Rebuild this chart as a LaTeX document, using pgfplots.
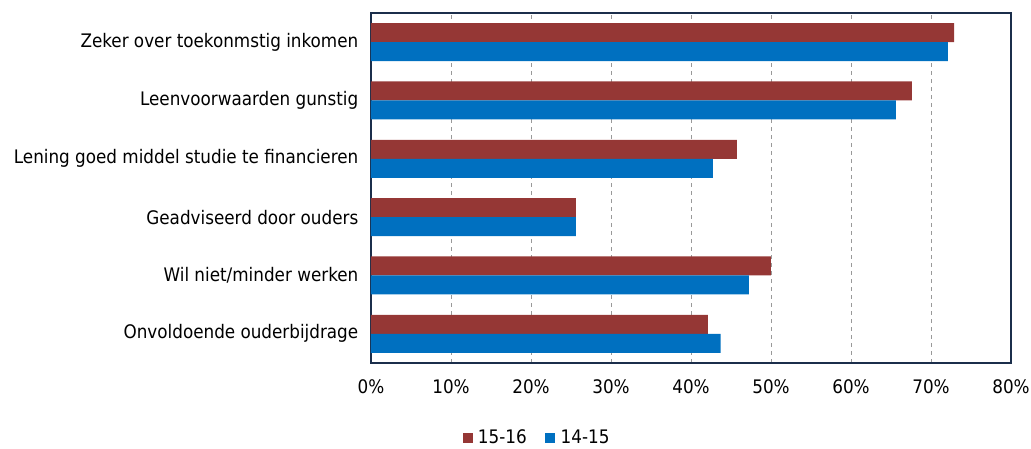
\documentclass[border=0pt]{standalone}
\usepackage{pgfplots}
\pgfplotsset{compat=1.18}
\usepackage{fontspec}
\setmainfont{DejaVu Sans Condensed}
\definecolor{cRed}{HTML}{953735}
\definecolor{cBlue}{HTML}{0070C0}
\definecolor{cFrame}{HTML}{1B2E4B}
\begin{document}
\begin{tikzpicture}[x=0.75pt,y=0.75pt]
\path[use as bounding box] (-371,-86) rectangle (660,363);
\begin{axis}[
  at={(0,0)}, anchor=south west,
  scale only axis,
  width=480pt, height=262.5pt,
  xbar,
  bar width=14.25pt,
  xmin=0, xmax=80,
  ymin=-0.5, ymax=5.5,
  xtick={0,10,...,80},
  xticklabels={0\%,10\%,20\%,30\%,40\%,50\%,60\%,70\%,80\%},
  ytick={0,1,2,3,4,5},
  yticklabels={Onvoldoende ouderbijdrage, Wil niet/minder werken, Geadviseerd door ouders, Lening goed middel studie te financieren, Leenvoorwaarden gunstig, Zeker over toekonmstig inkomen},
  major tick length=0pt,
  tick label style={font=\fontsize{14}{16}\selectfont, text=black},
  xticklabel style={yshift=-9pt},
  yticklabel style={xshift=-6pt},
  xmajorgrids,
  grid style={dashed, gray!80, line width=0.6pt},
  axis line style={cFrame, line width=1.7pt},
  legend style={at={(0.26,-0.214)}, anchor=center, draw=none, legend columns=2,
    font=\fontsize{14}{16}\selectfont,
    /tikz/every odd column/.append style={column sep=2pt},
    /tikz/every even column/.append style={column sep=12pt}},
  legend image code/.code={\fill (0pt,-3.75pt) rectangle (7.5pt,3.75pt);},
]
\addplot[fill=cRed, draw=none, bar shift=7.125pt] coordinates {
(42.1,0) (50.0,1) (25.6,2) (45.75,3) (67.6,4) (72.9,5)};
\addplot[fill=cBlue, draw=none, bar shift=-7.125pt] coordinates {
(43.7,0) (47.25,1) (25.6,2) (42.75,3) (65.6,4) (72.1,5)};
\legend{15-16,14-15}
\end{axis}
\end{tikzpicture}
\end{document}
